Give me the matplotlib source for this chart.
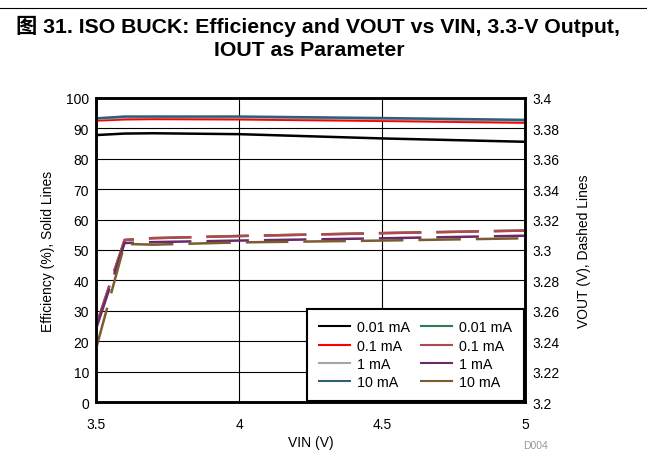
import matplotlib
matplotlib.use("Agg")
import matplotlib.pyplot as plt
from matplotlib.lines import Line2D

plt.rcParams['font.family'] = ['Liberation Sans', 'Noto Sans CJK SC', 'DejaVu Sans']

vin = [3.5, 3.6, 3.7, 4.0, 4.5, 5.0]

eff_labels = ["0.01 mA", "0.1 mA", "1 mA", "10 mA"]
eff_001 = [87.8, 88.3, 88.4, 88.1, 86.7, 85.6]
eff_01 = [92.6, 93.0, 93.1, 93.0, 92.5, 91.9]
eff_1 = [93.1, 93.6, 93.7, 93.6, 93.1, 92.5]
eff_10 = [93.3, 93.9, 93.9, 93.9, 93.4, 92.8]

vout_labels = ["0.01 mA", "0.1 mA", "1 mA", "10 mA"]
vout_001 = [3.250, 3.3066, 3.3078, 3.3092, 3.3111, 3.3128]
vout_01 = [3.250, 3.3066, 3.3078, 3.3092, 3.3111, 3.3128]
vout_1 = [3.248, 3.3046, 3.3052, 3.3062, 3.3077, 3.3094]
vout_10 = [3.235, 3.3040, 3.3035, 3.3050, 3.3062, 3.3077]

eff_colors = ["#000000", "#FF0000", "#A6A6A6", "#2F6078"]
vout_colors = ["#2E7A55", "#B5474B", "#6A2A6A", "#7A5C2E"]

fig = plt.figure(figsize=(6.47, 4.60), dpi=100)
ax = fig.add_axes([0.1484, 0.1239, 0.6630, 0.6609])
ax2 = ax.twinx()

for y, c in zip([eff_001, eff_01, eff_1, eff_10], eff_colors):
    ax.plot(vin, y, color=c, lw=1.8, solid_capstyle='butt')

for i, (y, c) in enumerate(zip([vout_001, vout_01, vout_1, vout_10], vout_colors)):
    ax2.plot(vin, y, color=c, lw=1.8, dashes=(17, 6), dash_capstyle='butt')

ax.set_xlim(3.5, 5.0)
ax.set_ylim(0, 100)
ax2.set_ylim(3.2, 3.4)
ax.set_xticks([3.5, 4.0, 4.5, 5.0])
ax.set_xticklabels(["3.5", "4", "4.5", "5"])
ax.set_yticks(range(0, 101, 10))
ax2.set_yticks([3.2 + 0.02 * i for i in range(11)])
ax2.set_yticklabels(["3.2", "3.22", "3.24", "3.26", "3.28", "3.3", "3.32", "3.34", "3.36", "3.38", "3.4"])

ax.grid(True, color='black', lw=0.8)
ax.set_axisbelow(True)
for a in (ax, ax2):
    a.tick_params(axis='y', length=0, labelsize=10, pad=5)
    a.tick_params(axis='x', length=0, labelsize=10, pad=11)
    for s in a.spines.values():
        s.set_linewidth(1.8)

ax.set_xlabel("VIN (V)", fontsize=10, labelpad=3)
ax.set_ylabel("Efficiency (%), Solid Lines", fontsize=10, labelpad=8)
ax2.set_ylabel("VOUT (V), Dashed Lines", fontsize=10, labelpad=13)

handles = []
labels = []
for c, l in zip(eff_colors, eff_labels):
    handles.append(Line2D([], [], color=c, lw=1.5))
    labels.append(l)
for c, l in zip(vout_colors, vout_labels):
    handles.append(Line2D([], [], color=c, lw=1.5))
    labels.append(l)
leg = ax2.legend(handles, labels, ncol=2, loc='lower right', fontsize=10.3,
                 frameon=True, fancybox=False, edgecolor='black', framealpha=1,
                 borderaxespad=0.1, handlelength=2.15, handletextpad=0.5,
                 columnspacing=0.8, labelspacing=0.3, borderpad=0.8)
leg.get_frame().set_linewidth(1.5)

fig.text(318 / 647, 1 - 33.3 / 460, "图 31. ISO BUCK: Efficiency and VOUT vs VIN, 3.3-V Output,",
         ha='center', va='baseline', fontsize=15.3, fontweight='bold')
fig.text(309.5 / 647, 1 - 55.5 / 460, "IOUT as Parameter",
         ha='center', va='baseline', fontsize=15.3, fontweight='bold')
fig.add_artist(Line2D([0, 1], [1 - 9.3 / 460, 1 - 9.3 / 460], color='black', lw=0.8,
                      transform=fig.transFigure))
fig.text(535 / 647, 0.030, "D004", ha='center', va='center', fontsize=7.5, color='#999999')

fig.savefig("out.png", dpi=100)
